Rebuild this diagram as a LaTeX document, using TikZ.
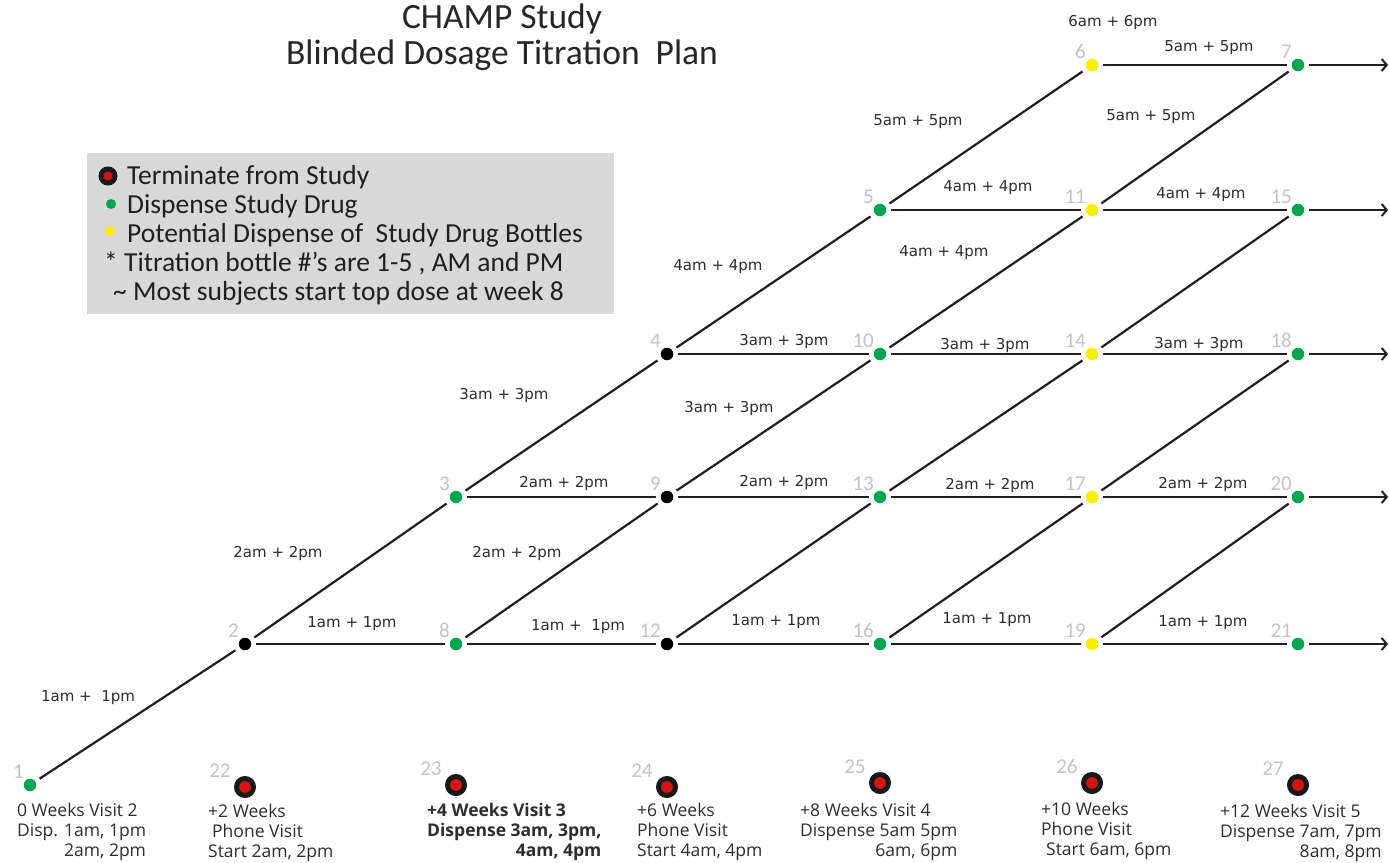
\documentclass[tikz,border=0pt]{standalone}
\usepackage{fontspec}
\setmainfont{Open Sans}
\newfontfamily\calibri{Carlito}
\newfontfamily\verdanalike{DejaVu Sans}
\usetikzlibrary{arrows.meta,backgrounds}
\definecolor{dgreen}{RGB}{0,166,80}
\definecolor{dyellow}{RGB}{250,240,0}
\definecolor{dred}{RGB}{215,20,20}
\definecolor{numgray}{RGB}{195,195,195}
\definecolor{dashgray}{RGB}{168,168,168}
\definecolor{legfill}{RGB}{217,217,217}
\definecolor{txt}{RGB}{45,45,45}
\begin{document}
\begin{tikzpicture}[x=1pt,y=-1pt,
  dot/.style={circle,inner sep=0pt,minimum size=12.5pt,draw=none},
  gdot/.style={dot,fill=dgreen},
  kdot/.style={dot,fill=black},
  ydot/.style={dot,fill=dyellow},
  term/.style={circle,inner sep=0pt,minimum size=17pt,fill=dred,draw=black!90,line width=5pt},
  numlbl/.style={text=numgray,font=\calibri\fontsize{21}{21}\selectfont,inner sep=0pt,label distance=2pt},
  link/.style={line width=2.2pt,draw=black!88,shorten <=5pt,shorten >=5pt},
  arrlink/.style={link,shorten >=0pt,-{Straight Barb[length=5pt,width=12pt,line width=2pt]}},
  vdash/.style={line width=1.4pt,draw=dashgray,dash pattern=on 6pt off 4pt},
  elbl/.style={font=\verdanalike\fontsize{15}{15}\selectfont,text=txt,inner sep=0pt},
  blbl/.style={font=\fontsize{17.5}{20}\selectfont,text=txt,inner sep=0pt,anchor=base west},
  titlef/.style={font=\calibri\fontsize{35.5}{35.5}\selectfont,text=black!85,inner sep=0pt,anchor=base},
  legtxt/.style={font=\calibri\fontsize{27.5}{27.5}\selectfont,text=black!88,inner sep=0pt,anchor=base west},
  ]
\useasboundingbox (0,0) rectangle (1389,862);
\fill[white] (0,0) rectangle (1389,862);

% title
\node[titlef] (t1) at (502,28) {CHAMP Study};
\node[titlef] (t2) at (502,64) {Blinded Dosage Titration\ \ Plan};

% legend
\node[fill=legfill,minimum width=527pt,minimum height=161pt,anchor=north west,inner sep=0pt] (leg) at (87,153) {};
\node[term,minimum size=14pt,line width=5pt] (lt) at (108,176) {};
\node[gdot,minimum size=10pt] (lg) at (111,204) {};
\node[ydot,minimum size=10pt] (ly) at (110,231) {};
\node[legtxt] (l1) at (127,184) {Terminate from Study};
\node[legtxt] (l2) at (127,213) {Dispense Study Drug};
\node[legtxt] (l3) at (127,242) {Potential Dispense of\ \ Study Drug Bottles};
\node[legtxt] (l4) at (104,271) {* Titration bottle \#’s are 1-5 , AM and PM};
\node[legtxt] (l5) at (113,300) {\textasciitilde\ Most subjects start top dose at week 8};

% grid nodes
\node[gdot,label={[numlbl]above left:1}] (n1) at (30,785) {};
\node[kdot,label={[numlbl]above left:2}] (n2) at (245,644) {};
\node[gdot,label={[numlbl]above left:3}] (n3) at (456,497) {};
\node[kdot,label={[numlbl]above left:4}] (n4) at (667,354) {};
\node[gdot,label={[numlbl]above left:5}] (n5) at (880,210) {};
\node[ydot,label={[numlbl]above left:6}] (n6) at (1092,65) {};
\node[gdot,label={[numlbl]above left:7}] (n7) at (1298,65) {};
\node[gdot,label={[numlbl]above left:8}] (n8) at (456,644) {};
\node[kdot,label={[numlbl]above left:9}] (n9) at (667,497) {};
\node[gdot,label={[numlbl]above left:10}] (n10) at (880,354) {};
\node[ydot,label={[numlbl]above left:11}] (n11) at (1092,210) {};
\node[kdot,label={[numlbl]above left:12}] (n12) at (667,644) {};
\node[gdot,label={[numlbl]above left:13}] (n13) at (880,497) {};
\node[ydot,label={[numlbl]above left:14}] (n14) at (1092,354) {};
\node[gdot,label={[numlbl]above left:15}] (n15) at (1298,210) {};
\node[gdot,label={[numlbl]above left:16}] (n16) at (880,644) {};
\node[ydot,label={[numlbl]above left:17}] (n17) at (1092,497) {};
\node[gdot,label={[numlbl]above left:18}] (n18) at (1298,354) {};
\node[ydot,label={[numlbl]above left:19}] (n19) at (1092,644) {};
\node[gdot,label={[numlbl]above left:20}] (n20) at (1298,497) {};
\node[gdot,label={[numlbl]above left:21}] (n21) at (1298,644) {};
% terminate nodes
\node[term,label={[numlbl,xshift=-5pt]above left:22}] (n22) at (245,787) {};
\node[term,label={[numlbl,xshift=-5pt]above left:23}] (n23) at (456,785) {};
\node[term,label={[numlbl,xshift=-5pt]above left:24}] (n24) at (667,787) {};
\node[term,label={[numlbl,xshift=-5pt]above left:25}] (n25) at (880,783) {};
\node[term,label={[numlbl,xshift=-5pt]above left:26}] (n26) at (1092,783) {};
\node[term,label={[numlbl,xshift=-5pt]above left:27}] (n27) at (1298,785) {};

% arrow ends
\coordinate (e7) at (1388,65);
\coordinate (e15) at (1388,210);
\coordinate (e18) at (1388,354);
\coordinate (e20) at (1388,497);
\coordinate (e21) at (1388,644);

% dashed verticals
\begin{scope}[on background layer]
\draw[vdash] (n22.center) -- (n2.center);
\draw[vdash] (n23.center) -- (n3.center);
\draw[vdash] (n24.center) -- (n4.center);
\draw[vdash] (n25.center) -- (n5.center);
\draw[vdash] (n26.center) -- (n6.center);
\draw[vdash] (n27.center) -- (n21.center);
\end{scope}

% diagonals
\draw[link] (n1) -- (n2);
\draw[link] (n2) -- (n3);
\draw[link] (n3) -- (n4);
\draw[link] (n4) -- (n5);
\draw[link] (n5) -- (n6);
\draw[link] (n8) -- (n9);
\draw[link] (n9) -- (n10);
\draw[link] (n10) -- (n11);
\draw[link] (n11) -- (n7);
\draw[link] (n12) -- (n13);
\draw[link] (n13) -- (n14);
\draw[link] (n14) -- (n15);
\draw[link] (n16) -- (n17);
\draw[link] (n17) -- (n18);
\draw[link] (n19) -- (n20);
% horizontals
\draw[link] (n2) -- (n8);
\draw[link] (n8) -- (n12);
\draw[link] (n12) -- (n16);
\draw[link] (n16) -- (n19);
\draw[link] (n19) -- (n21);
\draw[arrlink] (n21) -- (e21);
\draw[link] (n3) -- (n9);
\draw[link] (n9) -- (n13);
\draw[link] (n13) -- (n17);
\draw[link] (n17) -- (n20);
\draw[arrlink] (n20) -- (e20);
\draw[link] (n4) -- (n10);
\draw[link] (n10) -- (n14);
\draw[link] (n14) -- (n18);
\draw[arrlink] (n18) -- (e18);
\draw[link] (n5) -- (n11);
\draw[link] (n11) -- (n15);
\draw[arrlink] (n15) -- (e15);
\draw[link] (n6) -- (n7);
\draw[arrlink] (n7) -- (e7);

% edge labels: main diagonal
\node[elbl] (d1) at (88,698) {1am +\ \ 1pm};
\node[elbl] (d2) at (278,553) {2am + 2pm};
\node[elbl] (d3) at (504,395) {3am + 3pm};
\node[elbl] (d4) at (718,267) {4am + 4pm};
\node[elbl] (d5) at (918,122) {5am + 5pm};
\node[elbl] (d6) at (1113,22) {6am + 6pm};
% second diagonal
\node[elbl] (s2) at (517,553) {2am + 2pm};
\node[elbl] (s3) at (729,408) {3am + 3pm};
\node[elbl] (s4) at (944,253) {4am + 4pm};
\node[elbl] (s5) at (1151,117) {5am + 5pm};
% row 1
\node[elbl] (h11) at (352,624) {1am + 1pm};
\node[elbl] (h12) at (578,627) {1am +\ \ 1pm};
\node[elbl] (h13) at (776,622) {1am + 1pm};
\node[elbl] (h14) at (987,620) {1am + 1pm};
\node[elbl] (h15) at (1203,623) {1am + 1pm};
% row 2
\node[elbl] (h21) at (564,483) {2am + 2pm};
\node[elbl] (h22) at (784,482) {2am + 2pm};
\node[elbl] (h23) at (990,485) {2am + 2pm};
\node[elbl] (h24) at (1203,484) {2am + 2pm};
% row 3
\node[elbl] (h31) at (784,341) {3am + 3pm};
\node[elbl] (h32) at (985,345) {3am + 3pm};
\node[elbl] (h33) at (1199,344) {3am + 3pm};
% row 4
\node[elbl] (h41) at (988,188) {4am + 4pm};
\node[elbl] (h42) at (1201,195) {4am + 4pm};
% row 5
\node[elbl] (h51) at (1209,48) {5am + 5pm};

% bottom labels
\node[blbl] (b1) at (17,816) {\begin{tabular}[t]{@{}l@{}}0 Weeks Visit 2\\Disp. 1am, 1pm\\\hfill 2am, 2pm\end{tabular}};
\node[blbl] (b2) at (208,817) {\begin{tabular}[t]{@{}l@{}}+2 Weeks\\\hspace{4pt}Phone Visit\\Start 2am, 2pm\end{tabular}};
\node[blbl,font=\fontsize{17.5}{20}\selectfont\bfseries] (b3) at (427,816) {\begin{tabular}[t]{@{}l@{}}+4 Weeks Visit 3\\Dispense 3am, 3pm,\\\hfill 4am, 4pm\end{tabular}};
\node[blbl] (b4) at (637,816) {\begin{tabular}[t]{@{}l@{}}+6 Weeks\\Phone Visit\\Start 4am, 4pm\end{tabular}};
\node[blbl] (b5) at (800,816) {\begin{tabular}[t]{@{}l@{}}+8 Weeks Visit 4\\Dispense 5am 5pm\\\hfill 6am, 6pm\end{tabular}};
\node[blbl] (b6) at (1041,815) {\begin{tabular}[t]{@{}l@{}}+10 Weeks\\Phone Visit\\\hspace{5pt}Start 6am, 6pm\end{tabular}};
\node[blbl] (b7) at (1220,817) {\begin{tabular}[t]{@{}l@{}}+12 Weeks Visit 5\\Dispense 7am, 7pm\\\hfill 8am, 8pm\end{tabular}};
\end{tikzpicture}
\end{document}
